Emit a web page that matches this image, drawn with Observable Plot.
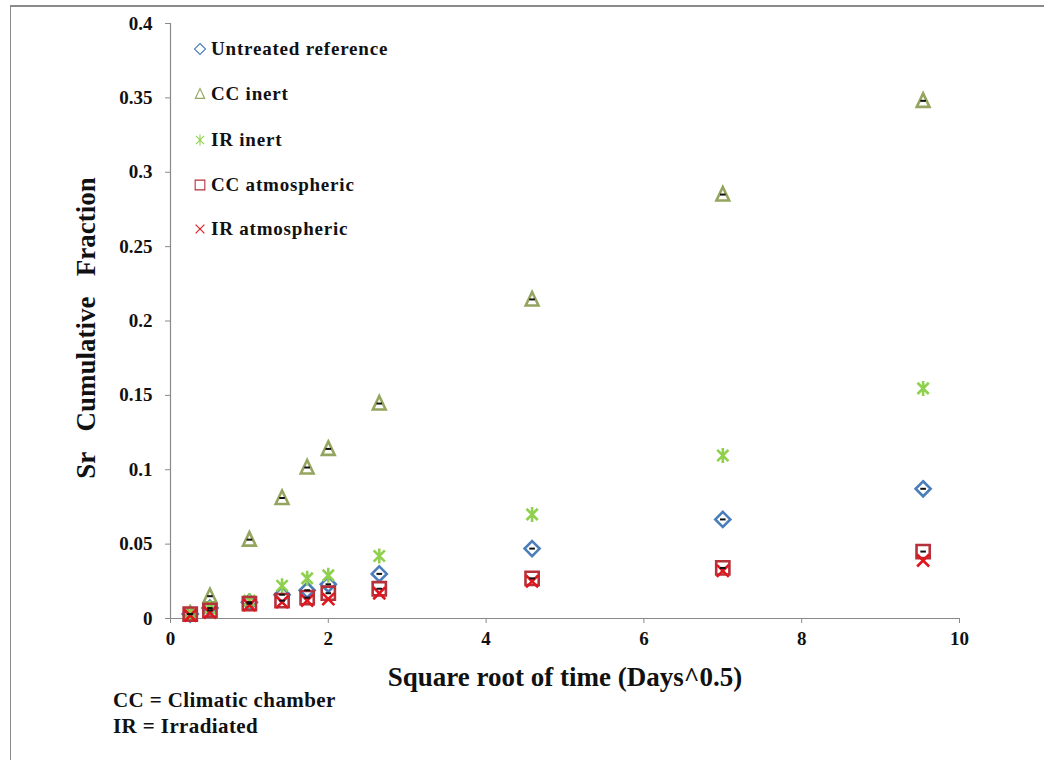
<!DOCTYPE html>
<html>
<head>
<meta charset="utf-8">
<script src="https://cdn.jsdelivr.net/npm/d3@7"></script>
<script src="https://cdn.jsdelivr.net/npm/@observablehq/plot@0.6"></script>
<style>
  body { margin: 0; background: #fff; }
  #wrap { position: relative; width: 1044px; height: 760px; overflow: hidden; background: #fff;
          font-family: "Liberation Serif", "Times New Roman", serif; }
  #frame { position: absolute; left: 10px; top: 5px; width: 1100px; height: 800px;
           border-left: 1.5px solid #8a8a8a; border-top: 2px solid #8a8a8a; pointer-events: none; }
  #chart { position: absolute; left: 0; top: 0; }
  #chart svg text { font-family: "Liberation Serif", "Times New Roman", serif; font-weight: bold; }
  #legend { position: absolute; left: 193px; top: 0; }
  .lrow { position: absolute; left: 0; white-space: nowrap; font-weight: bold; font-size: 19px; letter-spacing: 0.8px;
          color: #111; display: flex; align-items: center; height: 22px; }
  .lrow svg { margin-right: 4px; }
  #note { position: absolute; left: 113px; top: 687px; font-weight: bold; font-size: 21px; letter-spacing: 0.4px; line-height: 26px; color: #111; }
</style>
</head>
<body>
<div id="wrap">
  <div id="frame"></div>
  <div id="chart"></div>
  <div id="legend"></div>
  <div id="note">CC = Climatic chamber<br>IR = Irradiated</div>
</div>
<script>
// ---- data ----
const sqrtDays = [0.25, 0.5, 1, 1.414, 1.732, 2, 2.646, 4.583, 7, 9.539];
const untreated = [0.003, 0.007, 0.011, 0.016, 0.019, 0.023, 0.030, 0.047, 0.0666, 0.0872];
const ccInert   = [0.003, 0.015, 0.053, 0.081, 0.1015, 0.114, 0.1445, 0.2145, 0.285, 0.348];
const irInert   = [0.003, 0.007, 0.012, 0.022, 0.027, 0.029, 0.042, 0.070, 0.1096, 0.1547];
const ccAtm     = [0.003, 0.0055, 0.010, 0.012, 0.014, 0.017, 0.020, 0.027, 0.034, 0.045];
const irAtm     = [0.002, 0.004, 0.009, 0.011, 0.012, 0.013, 0.017, 0.025, 0.032, 0.039];
const seriesNames = ["Untreated reference", "CC inert", "IR inert", "CC atmospheric", "IR atmospheric"];
const xTicks = [0, 2, 4, 6, 8, 10];
const yTicks = [0, 0.05, 0.1, 0.15, 0.2, 0.25, 0.3, 0.35, 0.4];
const xLabel = "Square root of time (Days^0.5)";
const yLabel = "Sr\u00a0\u00a0 Cumulative\u00a0\u00a0 Fraction";

// ---- symbols ----
const diamond = { draw(c, size) { const r = Math.sqrt(size / Math.PI); c.moveTo(0, -r); c.lineTo(r, 0); c.lineTo(0, r); c.lineTo(-r, 0); c.closePath(); } };
const triangle = { draw(c, size) { const r = Math.sqrt(size / Math.PI); c.moveTo(0, -r); c.lineTo(r * 0.85, r * 0.8); c.lineTo(-r * 0.85, r * 0.8); c.closePath(); } };
const square = { draw(c, size) { const r = Math.sqrt(size / Math.PI) * 0.88; c.rect(-r, -r, 2 * r, 2 * r); } };
const cross = { draw(c, size) { const r = Math.sqrt(size / Math.PI) * 0.8; c.moveTo(-r, -r); c.lineTo(r, r); c.moveTo(r, -r); c.lineTo(-r, r); } };
const star = { draw(c, size) { const r = Math.sqrt(size / Math.PI); const a = r * 0.75; c.moveTo(-a, -a); c.lineTo(a, a); c.moveTo(a, -a); c.lineTo(-a, a); c.moveTo(0, -r); c.lineTo(0, r); } };
const dash = { draw(c, size) { const r = Math.sqrt(size / Math.PI); c.moveTo(-r * 0.4, 0); c.lineTo(r * 0.4, 0); } };

const colors = ["#4a7ebb", "#93a55e", "#8fd14f", "#b5323a", "#e0161f"];
const symbols = [diamond, triangle, star, square, cross];
const values = [untreated, ccInert, irInert, ccAtm, irAtm];

const series = seriesNames.map((name, i) => sqrtDays.map((x, j) => ({ name, x, y: values[i][j] })));

const fmt = d => String(+d.toFixed(2));

const marks = [
  Plot.ruleX([0], { stroke: "#8a8a8a", strokeWidth: 1.2 }),
  Plot.ruleY([0], { stroke: "#8a8a8a", strokeWidth: 1.2 }),
  Plot.axisY({ ticks: yTicks, tickFormat: fmt, tickSize: 5, tickPadding: 13, fontSize: 19, stroke: "#8a8a8a", label: null }),
  Plot.axisX({ ticks: xTicks, tickFormat: fmt, tickSize: 5, tickPadding: 8, fontSize: 19, stroke: "#8a8a8a", label: null }),
  Plot.text([xLabel], { frameAnchor: "bottom", textAnchor: "middle", lineAnchor: "middle", dy: 59, fontSize: 27, fontWeight: "bold", fill: "#111" }),
  Plot.text([yLabel], { frameAnchor: "left", textAnchor: "middle", lineAnchor: "middle", dx: -84, dy: 7, rotate: -90, fontSize: 27, fontWeight: "bold", fill: "#111" })
];
series.forEach((s, i) => {
  marks.push(Plot.dot(s, { x: "x", y: "y", symbol: symbols[i], r: 7.5, stroke: colors[i], strokeWidth: 2.6, fill: "none" }));
});
// tiny error bars seen as dashes inside markers
[0, 1, 3].forEach(i => {
  marks.push(Plot.dot(series[i], { x: "x", y: "y", symbol: dash, r: 7, stroke: "#111", strokeWidth: 2 }));
});

const plot = Plot.plot({
  width: 1044,
  height: 700,
  marginTop: 23,
  marginBottom: 82,
  marginLeft: 170,
  marginRight: 85,
  style: { background: "transparent", color: "#111" },
  x: { domain: [0, 10] },
  y: { domain: [0, 0.4] },
  marks
});
document.getElementById("chart").appendChild(plot);

// ---- legend (inside the plot area, top-left) ----
const legend = document.getElementById("legend");
const rowTops = [49, 94, 140, 185, 229];
seriesNames.forEach((name, i) => {
  const row = document.createElement("div");
  row.className = "lrow";
  row.style.top = (rowTops[i] - 11) + "px";
  const svg = d3.create("svg").attr("width", 14).attr("height", 14);
  const path = d3.path();
  symbols[i].draw(path, Math.PI * 5.5 * 5.5);
  svg.append("path").attr("d", path.toString()).attr("transform", "translate(7,7)")
    .attr("fill", "none").attr("stroke", colors[i]).attr("stroke-width", 1.1);
  row.appendChild(svg.node());
  const t = document.createElement("span");
  t.textContent = name;
  row.appendChild(t);
  legend.appendChild(row);
});
</script>
</body>
</html>
